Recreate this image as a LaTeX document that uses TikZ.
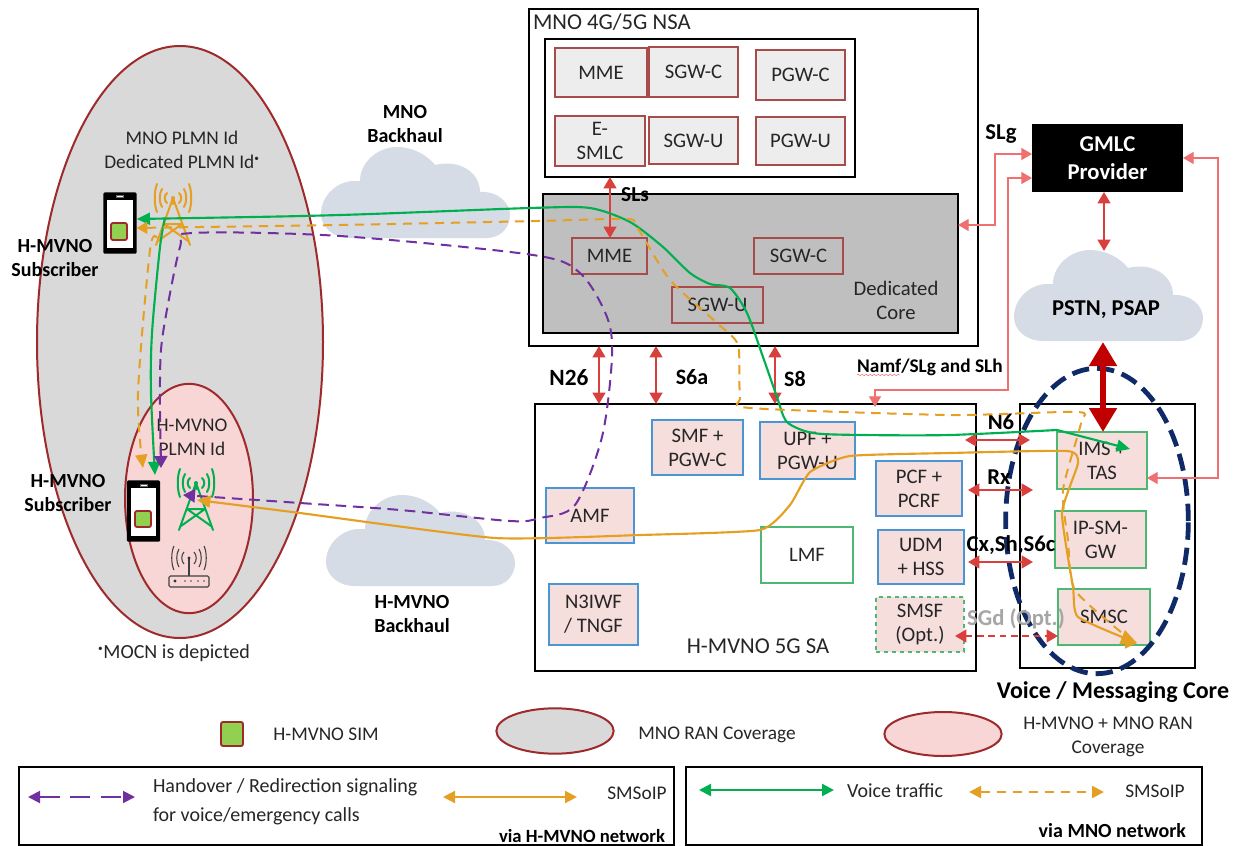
\documentclass[tikz,border=0pt]{standalone}
\usepackage{fontspec}
\setmainfont{Carlito}
\usetikzlibrary{arrows.meta,shapes.geometric,decorations.pathmorphing}
\definecolor{brownb}{HTML}{A84B4B}
\definecolor{pinkf}{HTML}{F6DEDC}
\definecolor{greenb}{HTML}{4DB874}
\definecolor{blueb}{HTML}{4A96D2}
\definecolor{dred}{HTML}{9E2A2B}
\definecolor{grayf}{HTML}{D9D9D9}
\definecolor{pinke}{HTML}{F7D6D5}
\definecolor{navyd}{HTML}{0F2A66}
\definecolor{greenl}{HTML}{00B050}
\definecolor{orangel}{HTML}{E5A024}
\definecolor{purplel}{HTML}{7030A0}
\definecolor{redl}{HTML}{D93F3C}
\definecolor{redt}{HTML}{EE7070}
\definecolor{darkr}{HTML}{C00000}
\definecolor{cloudf}{HTML}{D6DCE5}
\definecolor{txtc}{HTML}{262626}
\definecolor{simg}{HTML}{92D050}
\newcommand{\fs}[1]{\fontsize{#1}{18}\selectfont}
\tikzset{
  x=0.75pt,y=-0.75pt,
  every node/.style={inner sep=0pt,outer sep=0pt,text=txtc,font=\fs{14.5},align=center},
  boxtxt/.style={font=\fs{15.5}},
  boxb/.style={draw=black,line width=1.7pt},
  brownbox/.style={draw=brownb,line width=1.6pt,fill=#1,boxtxt},
  brownbox/.default={black!7},
  bluebox/.style={draw=blueb,line width=1.6pt,fill=pinkf,boxtxt},
  greenbox/.style={draw=greenb,line width=1.6pt,fill=pinkf,boxtxt},
  lab/.style={font=\fs{15}\bfseries,text=black},
  bigl/.style={font=\fs{17}\bfseries,text=black},
  redarrow/.style={draw=redl,line width=1.6pt,{Triangle[length=8.5pt,width=9.5pt]}-{Triangle[length=8.5pt,width=9.5pt]}},
  thinred/.style={draw=redt,line width=0.9pt,{Triangle[length=8pt,width=9pt]}-{Triangle[length=8pt,width=9pt]}},
  gline/.style={draw=greenl,line width=1.6pt},
  oline/.style={draw=orangel,line width=1.6pt},
  odash/.style={draw=orangel,line width=1.5pt,dash pattern=on 7pt off 5pt},
  pdash/.style={draw=purplel,line width=1.5pt,dash pattern=on 8pt off 5pt},
  tipg/.style={-{Triangle[length=10pt,width=9pt]}},
  phonebody/.style={fill=black,rounded corners=1pt,minimum width=25pt,minimum height=46pt},
  simbox/.style={draw=dred,line width=1.4pt,fill=simg,rounded corners=1.5pt},
}
\newcommand{\bx}[7]{%
  \pgfmathsetmacro{\bxcx}{(#3+#5)/2}\pgfmathsetmacro{\bxcy}{(#4+#6)/2}%
  \pgfmathsetmacro{\bxw}{(#5-#3)*0.75}\pgfmathsetmacro{\bxh}{(#6-#4)*0.75}%
  \node[#1,minimum width=\bxw pt,minimum height=\bxh pt] (#2) at (\bxcx,\bxcy) {#7};}
\newcommand{\cloudshape}[3]{%
  \fill[cloudf,shift={(#1,#2)},scale=#3]
   (29,91) .. controls (12,91) and (0,80) .. (0,67) .. controls (0,48) and (17,34) .. (33,34) -- (39,34)
   .. controls (39,15) and (57,0) .. (76,0) .. controls (92,0) and (106,8) .. (114,18)
   .. controls (138,12) and (159,25) .. (159,45) .. controls (177,44) and (189,56) .. (189,68)
   .. controls (189,81) and (179,91) .. (166,91) -- cycle;}
\newcommand{\towerat}[3]{%
  \begin{scope}[shift={(#1,#2)},draw=#3,line width=1.5pt,line cap=round]
    \draw (0,0) -- (-17,47) (0,0) -- (17,47) (0,0) -- (0,6);
    \draw (-9,26) -- (9,26) (-9,26) -- (15,43) (9,26) -- (-15,43);
    \foreach \r/\b in {6/5,11/9,16/14}{
      \draw (\r,-\b) .. controls (\r+3,-\b/2) and (\r+3,\b/2) .. (\r,\b);
      \draw (-\r,-\b) .. controls (-\r-3,-\b/2) and (-\r-3,\b/2) .. (-\r,\b);
    }
    \fill[#3] (0,0) circle (2);
  \end{scope}}
\begin{document}
\begin{tikzpicture}
\useasboundingbox (0,0) rectangle (1236,846);
\fill[white] (0,0) rectangle (1236,846);

% coverage ellipses
\node[ellipse,draw=dred,line width=1.5pt,fill=grayf,minimum width=214.5pt,minimum height=444pt] (mnoran) at (180,342) {};
\node[ellipse,draw=dred,line width=1.5pt,fill=pinke,minimum width=96pt,minimum height=172pt] (mvnoran) at (189,498.5) {};
\node (plmnA) at (182,150) {MNO PLMN Id\\Dedicated PLMN Id\textsuperscript{\scriptsize•}};
\node (plmn) at (192,437) {H-MVNO\\PLMN Id};

% clouds
\cloudshape{321}{147}{1}
\cloudshape{326}{495}{1}
\cloudshape{1014}{250}{1}
\node[lab] (mnobh) at (405,124) {MNO\\Backhaul};
\node[lab] (mvnobh) at (412,614) {H-MVNO\\Backhaul};

% MNO core
\bx{boxb,fill=white}{nsa}{529}{9}{978}{346}{}
\node[anchor=west,font=\fs{17}] (nsat) at (533,22) {MNO 4G/5G NSA};
\bx{boxb,fill=white}{epc}{545}{39}{855}{177}{}
\bx{brownbox}{mme}{555}{48}{647}{97}{MME}
\bx{brownbox}{sgwc}{649}{47}{738}{97}{SGW-C}
\bx{brownbox}{pgwc}{756}{50}{845}{100}{PGW-C}
\bx{brownbox}{esmlc}{555}{116}{645}{166}{E-\\SMLC}
\bx{brownbox}{sgwu}{649}{117}{738}{164}{SGW-U}
\bx{brownbox}{pgwu}{756}{117}{845}{165}{PGW-U}
\bx{boxb,fill=black!25}{dcore}{543}{194}{958}{333}{}
\bx{brownbox=black!25}{dmme}{572}{238}{647}{274}{MME}
\bx{brownbox=black!25}{dsgwc}{754}{238}{843}{274}{SGW-C}
\bx{brownbox=black!25}{dsgwu}{672}{287}{763}{323}{SGW-U}
\node[boxtxt] (dct) at (896,300) {Dedicated\\Core};

% H-MVNO core
\bx{boxb,fill=white}{sa}{535}{404}{976}{671}{}
\node[font=\fs{17}] (sat) at (758,646) {H-MVNO 5G SA};
\bx{bluebox}{smf}{652}{420}{743}{475}{SMF +\\PGW-C}
\bx{bluebox}{upf}{760}{422}{855}{479}{UPF +\\PGW-U}
\bx{bluebox}{pcf}{876}{461}{962}{516}{PCF +\\PCRF}
\bx{bluebox}{udm}{878}{530}{964}{584}{UDM\\+ HSS}
\bx{greenbox,dashed}{smsf}{876}{597}{964}{652}{SMSF\\(Opt.)}
\bx{bluebox}{amf}{546}{488}{634}{543}{AMF}
\bx{bluebox}{n3iwf}{549}{584}{638}{645}{N3IWF\\/ TNGF}
\bx{greenbox,fill=white}{lmf}{761}{527}{853}{583}{LMF}

% voice core
\bx{boxb,fill=white}{vcore}{1020}{404}{1195}{668}{}
\bx{greenbox}{ims}{1057}{432}{1147}{489}{IMS +\\TAS}
\bx{greenbox}{ipsm}{1055}{511}{1146}{568}{IP-SM-\\GW}
\bx{greenbox}{smsc}{1058}{589}{1150}{645}{SMSC}
\node[font=\fs{18}\bfseries,text=black] (vct) at (1113,692) {Voice / Messaging Core};

% GMLC
\bx{fill=black,text=white,font=\fs{17}\bfseries}{gmlc}{1032}{124}{1183}{192}{GMLC\\[3pt]Provider}
\node[bigl] (pstn) at (1106,310) {PSTN, PSAP};
\coordinate (pstntop) at (1104,251);
\coordinate (pstnbot) at (1103,342);

% phones and towers
\node[phonebody] (phoneA) at (120,223) {};
\node[fill=white,minimum width=19pt,minimum height=36pt] (scrA) at (120,224) {};
\node[draw=black!60,fill=white,minimum width=5pt,minimum height=1.5pt,line width=.3pt] (spkA) at (120,196) {};
\bx{simbox}{simA}{111}{223}{127}{240}{}
\node[phonebody] (phoneB) at (143.5,511) {};
\node[fill=white,minimum width=19pt,minimum height=36pt] (scrB) at (143.5,512) {};
\node[draw=black!60,fill=white,minimum width=5pt,minimum height=1.5pt,line width=.3pt] (spkB) at (143.5,485) {};
\bx{simbox}{simB}{135}{511}{151}{527}{}
\node[lab] (subA) at (55,258) {H-MVNO\\Subscriber};
\node[lab] (subB) at (68,493) {H-MVNO\\Subscriber};
\towerat{173}{198}{orangel}
\towerat{196}{483}{greenl}

% router
\begin{scope}[draw=black!75,line width=0.8pt]
  \draw (189,558) -- (189,576);
  \fill[black!80] (189,558) circle (1.6);
  \foreach \r/\b in {5/6,10/9,15/12}{
    \draw (189+\r,558-\b) .. controls (189+\r+3,558-\b/2) and (189+\r+3,558+\b/2) .. (189+\r,558+\b);
    \draw (189-\r,558-\b) .. controls (189-\r-3,558-\b/2) and (189-\r-3,558+\b/2) .. (189-\r,558+\b);
  }
  \bx{draw=black!75,line width=.8pt,rounded corners=1pt}{router}{169}{576}{209}{587}{}
  \fill[black!80] (175,581) circle (1.6);
  \foreach \x in {185,191,198,204}{\fill[black!70] (\x,581) circle (.9);}
\end{scope}
\node[font=\fs{15}] (mocn) at (174,653) {\textsuperscript{\scriptsize•}MOCN is depicted};

% navy ellipse
\node[ellipse,draw=navyd,line width=3.6pt,dash pattern=on 13pt off 6pt,minimum width=137pt,minimum height=229pt] (voiceell) at (1097,521) {};

% red interface arrows
\draw[redarrow] (epc.south -| 610,0) -- (dmme.north -| 610,0);
\draw[redarrow] (nsa.south -| 599,0) -- (sa.north -| 599,0);
\draw[redarrow] (nsa.south -| 656,0) -- (sa.north -| 656,0);
\draw[redarrow] (nsa.south -| 775,0) -- (sa.north -| 775,0);
\coordinate (n6r) at (1030,440);
\coordinate (rxr) at (1033,490);
\coordinate (cxr) at (1033,562);
\draw[redarrow] (sa.east |- n6r) ++(-11,0) -- (n6r);
\draw[redarrow] (pcf.east |- rxr) ++(6,0) -- (rxr);
\draw[redarrow] (udm.east |- cxr) ++(4,0) -- (cxr);
\draw[redarrow,dash pattern=on 5pt off 3.5pt] (smsf.east |- 0,636) ++(-9,0) -- (smsc.west |- 0,636);
\draw[redarrow] (gmlc.south -| 1104,0) -- (pstntop);
\draw[draw=darkr,line width=4.5pt,{Triangle[length=18pt,width=20pt]}-{Triangle[length=18pt,width=20pt]}] (pstnbot) -- (ims.north -| pstnbot);

% thin red connectors
\draw[thinred] (dcore.east |- 0,225) -- (995,225) -- (995,154) -- (gmlc.west |- 0,154);
\draw[thinred] (sa.north -| 875,0) ++(0,3) -- (875,390) -- (1008,390) -- (1008,178) -- (gmlc.west |- 0,178);
\draw[thinred] (ims.east |- 0,478) -- (1218,478) -- (1218,158) -- (gmlc.east |- 0,158);

% labels
\node[font=\fs{17.5}\bfseries,text=black] (n26l) at (569,378) {N26};
\node[font=\fs{16.5}\bfseries,text=black] (s6al) at (692,377) {S6a};
\node[font=\fs{16.5}\bfseries,text=black] (s8l) at (795,379) {S8};
\node[font=\fs{16}\bfseries,text=black] (slsl) at (635,195) {SLs};
\node[bigl] (slgl) at (1001,134) {SLg};
\node[font=\fs{14.5}\bfseries,text=black] (namf) at (930,367) {Namf/SLg and SLh};
\draw[red!80,line width=.3pt,decorate,decoration={snake,amplitude=.5pt,segment length=3pt}] (857,375) -- (900,375);
\node[bigl] (n6l) at (1001,422) {N6};
\node[bigl] (rxl) at (999,477) {Rx};
\node[bigl] (cxl) at (1011,545) {Cx,Sh,S6c};
\node[bigl,text=black!35] (sgdl) at (1016,619) {SGd (Opt.)};

% traffic paths
\draw[gline,{Triangle[length=10pt,width=9pt]}-{Triangle[length=10pt,width=9pt]}] plot[smooth,tension=.45] coordinates {
 (phoneA.east |- 0,219) (340,215) (530,208) (590,208) (630,222) (663,247) (690,273) (710,284) (730,288) (747,313) (763,357) (777,397) (787,422) (813,433) (863,435) (950,435) (1057,430)} -- ([xshift=-12.75pt]ims.east |- 0,449);
\draw[gline,tipg] plot[smooth,tension=.5] coordinates {(165,218) (160,247) (152,333) (151,393) (155,475)};
\draw[odash,{Triangle[length=8pt,width=9pt]}-{Triangle[length=9pt,width=9pt]}] plot[smooth,tension=.4] coordinates {
 (phoneA.east |- 0,228) (200,227) (340,225) (538,221) (627,219) (637,227) (670,280) (717,323) (738,345) (740,397) (750,408) (950,415) (1077,412) (1081,423) (1063,490) (1068,540) (1075,590) (1127,637) (1137,643)};
\draw[odash,tipg] plot[smooth,tension=.5] coordinates {(157,238) (150,250) (138,393) (143,468)};
\draw[pdash,{Triangle[length=9pt,width=10pt]}-{Triangle[length=9pt,width=10pt]}] plot[smooth,tension=.5] coordinates {
 (161,468) (160,380) (163,333) (180,247) (193,233) (340,236) (533,255) (580,273) (607,317) (612,357) (602,437) (575,505) (540,518) (510,521) (400,510) (300,503) (183,495)};
\draw[oline,{Triangle[length=10pt,width=9pt]}-{Triangle[length=12pt,width=11pt]}] plot[smooth,tension=.3] coordinates {
 (197,500) (300,513) (495,538) (640,535) (760,530) (790,505) (810,472) (850,456) (950,453) (1067,451) (1078,463) (1062,513) (1073,587) (1078,617) (1137,643)};

% legend row
\bx{simbox}{simL}{221}{722}{243}{746}{}
\node (simt) at (326,734) {H-MVNO SIM};
\node[ellipse,draw=dred,line width=1.5pt,fill=grayf,minimum width=88pt,minimum height=34pt] (elG) at (555,731) {};
\node (elGt) at (717,735) {MNO RAN Coverage};
\node[ellipse,draw=dred,line width=1.5pt,fill=pinke,minimum width=88pt,minimum height=33pt] (elP) at (943,734) {};
\node (elPt) at (1108,737) {H-MVNO + MNO RAN\\Coverage};

% legend frames
\bx{boxb}{legL}{19}{767}{674}{845}{}
\bx{boxb}{legR}{686}{767}{1202}{845}{}
\node[anchor=west,align=left,font=\fs{15}] (lg1) at (153,802) {Handover / Redirection signaling\\[4pt]for voice/emergency calls};
\coordinate (pa) at (28,797); \coordinate (pb) at (135,797);
\draw[pdash,{Triangle[length=9pt,width=9pt]}-{Triangle[length=9pt,width=9pt]},dash pattern=on 15pt off 8pt] (pa) -- (pb);
\coordinate (oa) at (443,797); \coordinate (ob) at (577,797);
\draw[oline,{Triangle[length=9pt,width=9pt]}-{Triangle[length=9pt,width=9pt]}] (oa) -- (ob);
\node (lg2) at (637,793) {SMSoIP};
\node[anchor=east,font=\fs{14}\bfseries,text=black] (lg3) at (665,836) {via H-MVNO network};
\coordinate (ga) at (699,790); \coordinate (gb) at (834,790);
\draw[gline,{Triangle[length=9pt,width=9pt]}-{Triangle[length=9pt,width=9pt]}] (ga) -- (gb);
\node[font=\fs{15}] (lg4) at (895,791) {Voice traffic};
\coordinate (da) at (969,792); \coordinate (db) at (1104,792);
\draw[odash,{Triangle[length=9pt,width=9pt]}-{Triangle[length=9pt,width=9pt]}] (da) -- (db);
\node (lg5) at (1155,791) {SMSoIP};
\node[anchor=east,font=\fs{15}\bfseries,text=black] (lg6) at (1186,831) {via MNO network};
\end{tikzpicture}
\end{document}
